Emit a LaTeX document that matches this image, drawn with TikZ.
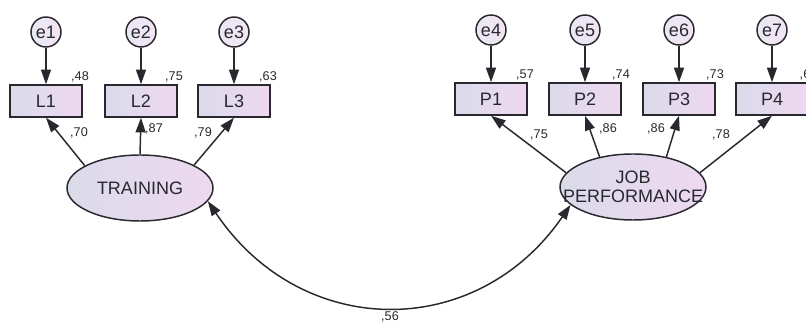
\documentclass[tikz,border=0pt]{standalone}
\usepackage{fontspec}
\setmainfont{Liberation Sans}
\usetikzlibrary{arrows.meta,shapes.geometric}

\definecolor{boxleft}{RGB}{218,219,234}
\definecolor{boxright}{RGB}{238,216,240}
\definecolor{linegray}{RGB}{40,40,46}

\begin{document}
\begin{tikzpicture}[x=0.75pt,y=-0.75pt,>={Triangle[length=11pt,width=7.5pt]},
                    line width=1.1pt,color=linegray,node distance=51.75pt,
                    obs/.style={rectangle,draw,left color=boxleft,right color=boxright,
                      minimum width=54pt,minimum height=24pt,inner sep=0pt,font=\fontsize{13.5}{14}\selectfont},
                    err/.style={circle,draw,left color=boxleft!60!white,right color=boxright!70!white,
                      minimum size=22.5pt,inner sep=0pt,font=\fontsize{13.5}{14}\selectfont},
                    latent/.style={ellipse,draw,left color=boxleft,right color=boxright,
                      minimum width=109.5pt,minimum height=49.5pt,inner sep=0pt,align=center,
                      font=\fontsize{13.5}{14.5}\selectfont},
                    num/.style={font=\fontsize{9.5}{10}\selectfont,inner sep=0pt}]

  \useasboundingbox (0,0) rectangle (806,323);

  % indicators
  \node[obs] (L1) at (46,101) {L1};
  \node[obs] (L2) at (141,101) {L2};
  \node[obs] (L3) at (234,101) {L3};
  \node[obs] (P1) at (491,99) {P1};
  \node[obs] (P2) at (585,99) {P2};
  \node[obs] (P3) at (679,99) {P3};
  \node[obs] (P4) at (772,99) {P4};

  % error terms
  \node[err] (e1) [above of=L1] {e1};
  \node[err] (e2) [above of=L2] {e2};
  \node[err] (e3) [above of=L3] {e3};
  \node[err] (e4) [above of=P1] {e4};
  \node[err] (e5) [above of=P2] {e5};
  \node[err] (e6) [above of=P3] {e6};
  \node[err] (e7) [above of=P4] {e7};

  % latent variables
  \node[latent] (train) at (140,188) {TRAINING};
  \node[latent] (perf) at (633,187) {\makebox[0pt]{JOB}\\\makebox[0pt]{PERFORMANCE}};

  \path[->]
	(e1) edge (L1)
	(e2) edge (L2)
	(e3) edge (L3)
	(e4) edge (P1)
	(e5) edge (P2)
	(e6) edge (P3)
	(e7) edge (P4)
	(train.158) edge (L1.south)
	(train.90) edge (L2.south)
	(train.23) edge (L3.south)
	(perf.168) edge (P1.south)
	(perf.138) edge (P2.south)
	(perf.42) edge (P3.south)
	(perf.12) edge (P4.south);

  % covariance
  \draw[<->] (train.-11) .. controls (302,341) and (477,341) .. (perf.196);

  % squared multiple correlations
  \node[num] (r1) at (80,77) {,48};
  \node[num] (r2) at (174,77) {,75};
  \node[num] (r3) at (268,77) {,63};
  \node[num] (r4) at (525,75) {,57};
  \node[num] (r5) at (621,75) {,74};
  \node[num] (r6) at (715,75) {,73};
  \node[num,anchor=west] (r7) at (799,75) {,6};

  % loadings
  \node[num] (w1) at (79,133) {,70};
  \node[num] (w2) at (154,129) {,87};
  \node[num] (w3) at (203,133) {,79};
  \node[num] (w4) at (539,135) {,75};
  \node[num] (w5) at (608,129) {,86};
  \node[num] (w6) at (656,129) {,86};
  \node[num] (w7) at (721,135) {,78};
  \node[num] (cv) at (390,317) {,56};

\end{tikzpicture}
\end{document}
